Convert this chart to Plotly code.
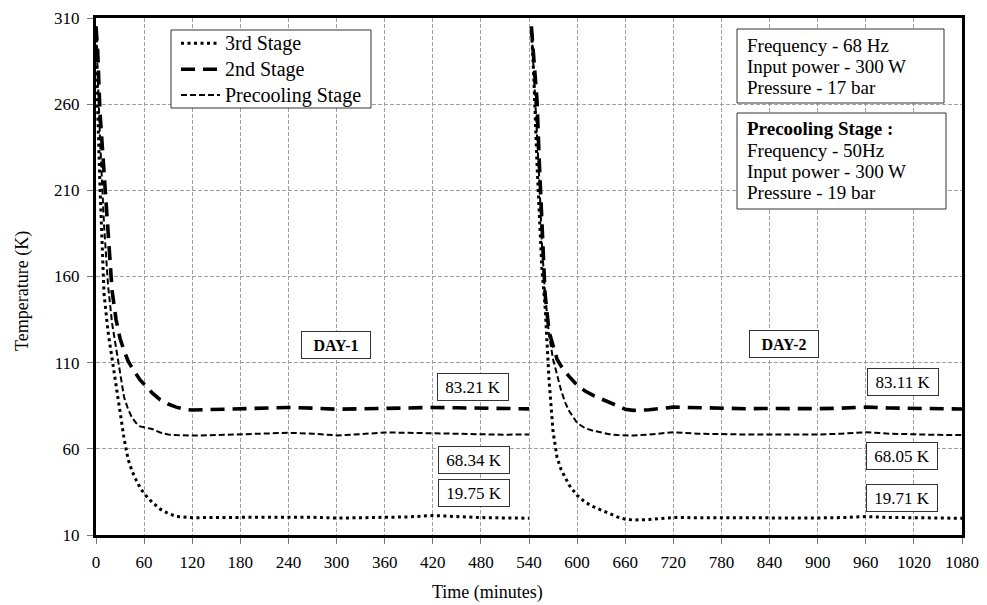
import plotly.graph_objects as go

# ---------------- data ----------------
time_day1 = [0, 2, 5, 10, 15, 20, 25, 30, 35, 40, 45, 50, 55, 60, 70, 80, 90, 100,
             110, 120, 150, 180, 210, 240, 270, 300, 330, 360, 390, 420, 450, 480, 510, 540]
third_day1 = [305, 258, 212, 150, 128, 112, 96, 82, 66, 54, 47, 42, 37.5, 34, 29, 25, 22.5, 20.8,
              20.2, 20, 20.2, 20.3, 20.5, 20.6, 20.3, 19.8, 20, 20.2, 20.5, 21.3, 20.5, 20.1, 19.9, 19.75]
second_day1 = [305, 292, 255, 218, 182, 152, 135, 124, 117, 111, 107, 103, 100, 97.5, 92.5, 88.5, 86, 84.2,
               83, 82.5, 82.8, 83.2, 83.5, 84, 83.6, 83, 83.2, 83.6, 83.8, 84, 83.8, 83.5, 83.3, 83.21]
precool_day1 = [305, 275, 240, 190, 155, 133, 119, 104, 90, 83, 78, 75, 73, 72.5, 71.5, 69.5, 68.3, 68,
                67.8, 67.7, 68, 68.3, 68.8, 69.3, 68.8, 67.8, 68.5, 69.5, 69.3, 69, 68.6, 68.1, 68.2, 68.34]

time_day2 = [543, 546, 550, 553, 556, 560, 565, 570, 575, 580, 585, 590, 600, 610, 620, 630, 640, 650,
             660, 670, 690, 720, 750, 780, 810, 840, 870, 900, 930, 960, 990, 1020, 1050, 1080]
third_day2 = [305, 275, 225, 190, 165, 143, 100, 70, 55, 48, 43, 39, 33, 29, 26.5, 24.5, 22.5, 20.5,
              19.2, 18.7, 19, 20.2, 20, 19.9, 19.9, 20, 19.9, 19.9, 20.1, 20.7, 20.2, 19.9, 19.8, 19.71]
second_day2 = [305, 285, 262, 225, 190, 150, 128, 119, 112, 108, 105, 102, 97, 93.5, 91, 89, 86.5, 84.6,
               83, 82.3, 82.7, 84.2, 83.8, 83.4, 83.3, 83.4, 83.2, 83.3, 83.6, 84.2, 83.7, 83.4, 83.2, 83.11]
precool_day2 = [305, 280, 245, 215, 180, 150, 126, 112, 103, 94, 87, 82, 75, 72, 70.5, 69.5, 68.5, 68,
                67.8, 67.7, 68.3, 69.6, 68.8, 68.4, 68.3, 68.3, 68.2, 68.3, 68.8, 69.6, 68.8, 68.4, 68.1, 68.05]

series_names = ["3rd Stage", "2nd Stage", "Precooling Stage"]

x_ticks = list(range(0, 1081, 60))
y_ticks = list(range(10, 311, 50))

value_labels = ["83.21 K", "68.34 K", "19.75 K", "83.11 K", "68.05 K", "19.71 K"]
value_label_x = [470, 472, 472, 1007, 1005, 1005]
value_label_y = [96, 53.3, 34.4, 98.7, 56, 31.6]

day_labels = ["DAY-1", "DAY-2"]
day_label_x = [299, 858]
day_label_y = [120, 121]

info_box_1 = ["Frequency - 68 Hz", "Input power - 300 W", "Pressure - 17 bar"]
info_box_2 = ["<b>Precooling Stage :</b>", "Frequency - 50Hz", "Input power - 300 W", "Pressure - 19 bar"]

x_title = "Time (minutes)"
y_title = "Temperature (K)"

# ---------------- figure ----------------
FONT = "Liberation Serif, Times New Roman, serif"

# The page adds an 8px body margin, so the figure is sized to fit the window.
W, H = 979, 597
ML, MR, MT, MB = 88, 25, 10, 70
PW, PH = W - ML - MR, H - MT - MB


def px_x(p):   # window pixel -> paper x
    return (p - 8 - ML) / PW


def px_y(p):   # window pixel -> paper y
    return (H - MB - (p - 8)) / PH


def joined(a, b):
    return list(a) + [None] + list(b)


x_all = joined(time_day1, time_day2)
styles = [
    dict(width=3, dash="3px,3.5px"),
    dict(width=3.6, dash="14px,8px"),
    dict(width=2, dash="6px,3px"),
]
ys = [joined(third_day1, third_day2), joined(second_day1, second_day2), joined(precool_day1, precool_day2)]

fig = go.Figure()
for name, y, st in zip(series_names, ys, styles):
    fig.add_trace(go.Scatter(x=x_all, y=y, mode="lines", name=name, showlegend=False,
                             line=dict(color="black", **st), connectgaps=False))

fig.update_layout(
    width=W, height=H,
    margin=dict(l=ML, r=MR, t=MT, b=MB),
    paper_bgcolor="white", plot_bgcolor="white",
    font=dict(family=FONT, color="black", size=17),
    showlegend=False,
)

axis_common = dict(showline=True, linecolor="black", linewidth=3, mirror=True,
                   showgrid=True, gridcolor="#a0a0a0", gridwidth=1, griddash="4px,2px",
                   zeroline=False, ticks="outside", ticklen=6, tickcolor="#777",
                   tickfont=dict(family=FONT, size=17, color="black"), automargin=False)

fig.update_xaxes(range=[0, 1080], tickvals=x_ticks, ticktext=[str(v) for v in x_ticks],
                 ticklabelstandoff=4, **axis_common)
fig.update_yaxes(range=[10, 310], tickvals=y_ticks, ticktext=[str(v) for v in y_ticks],
                 ticklabelstandoff=4, **axis_common)

annotations = []
shapes = []

# axis titles (placed as in the reference)
annotations.append(dict(x=px_x(487), y=px_y(592), xref="paper", yref="paper", text=x_title,
                        xanchor="center", yanchor="middle",
                        showarrow=False, font=dict(family=FONT, size=18, color="black")))
annotations.append(dict(x=px_x(22), y=px_y(291), xref="paper", yref="paper", text=y_title,
                        xanchor="center", yanchor="middle",
                        textangle=-90, showarrow=False, font=dict(family=FONT, size=18, color="black")))

for txt, xv, yv in zip(value_labels, value_label_x, value_label_y):
    annotations.append(dict(x=xv, y=yv, xref="x", yref="y", text=txt, showarrow=False,
                            font=dict(family=FONT, size=17, color="black"),
                            width=64, height=20,
                            bgcolor="white", bordercolor="#333", borderwidth=1, borderpad=3))
for txt, xv, yv in zip(day_labels, day_label_x, day_label_y):
    annotations.append(dict(x=xv, y=yv, xref="x", yref="y", text="<b>" + txt + "</b>", showarrow=False,
                            font=dict(family=FONT, size=16, color="black"),
                            width=62, height=20,
                            bgcolor="white", bordercolor="#333", borderwidth=1, borderpad=3))

# legend box (framed like the reference)
shapes.append(dict(type="rect", xref="paper", yref="paper",
                   x0=px_x(171), x1=px_x(371), y0=px_y(108), y1=px_y(30),
                   line=dict(color="#333", width=1), fillcolor="white", layer="above"))
for name, st, ry in zip(series_names, styles, [43.3, 69.3, 95]):
    shapes.append(dict(type="line", xref="paper", yref="paper",
                       x0=px_x(181), x1=px_x(220), y0=px_y(ry), y1=px_y(ry),
                       line=dict(color="black", width=st["width"], dash=st["dash"]), layer="above"))
    annotations.append(dict(x=px_x(223), y=px_y(ry), xref="paper", yref="paper",
                            xanchor="left", yanchor="middle", text=name, showarrow=False,
                            font=dict(family=FONT, size=20, color="black")))

# info boxes: frame as shape, each line as its own annotation
boxes = [
    (info_box_1, (737, 944, 29, 103), [45, 66.7, 87.3]),
    (info_box_2, (737, 946, 113, 209), [128.3, 150, 171, 192.7]),
]
for lines, (x0, x1, y0, y1), line_y in boxes:
    shapes.append(dict(type="rect", xref="paper", yref="paper",
                       x0=px_x(x0), x1=px_x(x1), y0=px_y(y1), y1=px_y(y0),
                       line=dict(color="#333", width=1), fillcolor="white", layer="above"))
    for txt, ly in zip(lines, line_y):
        annotations.append(dict(x=px_x(745), y=px_y(ly), xref="paper", yref="paper",
                                xanchor="left", yanchor="middle", text=txt, showarrow=False,
                                font=dict(family=FONT, size=19, color="black")))

fig.update_layout(annotations=annotations, shapes=shapes)

fig.write_html("out.html")
